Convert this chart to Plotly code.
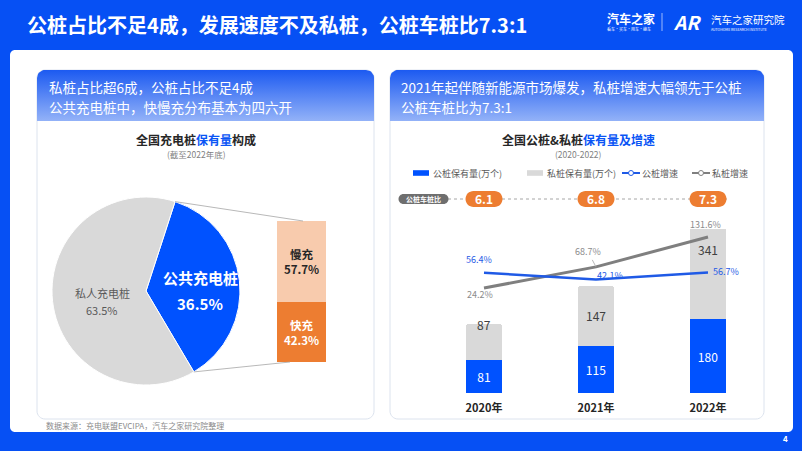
import numpy as np
import plotly.graph_objects as go

W, H = 802, 451
FONT = "Noto Sans CJK SC"

# ---------------- data ----------------
pie_labels = ["公共充电桩", "私人充电桩"]
pie_values = [36.5, 63.5]
split_labels = ["快充", "慢充"]
split_values = [42.3, 57.7]
years = ["2020年", "2021年", "2022年"]
public_stock = [81, 115, 180]
private_stock = [87, 147, 341]
public_growth = [56.4, 42.1, 56.7]
private_growth = [24.2, 68.7, 131.6]
ratio = [6.1, 6.8, 7.3]

# ---------------- styles ----------------
BG_BLUE = "#0650F4"
BAR_BLUE = "#0052FF"
LINE_BLUE = "#1F5AE6"
LIGHT_GRAY = "#D9D9D9"
DARK_GRAY = "#7F7F7F"
ORANGE = "#ED7D31"
PEACH = "#F8CBAD"
TXT = "#404040"

def px2x(px):
    return px / W

def py2y(py):
    return 1 - py / H

K = 0.5523

def rr_path(x0, y0, x1, y1, r):
    k = K * r
    return (f"M{x0+r},{y0} L{x1-r},{y0} C{x1-r+k},{y0} {x1},{y0+r-k} {x1},{y0+r} "
            f"L{x1},{y1-r} C{x1},{y1-r+k} {x1-r+k},{y1} {x1-r},{y1} "
            f"L{x0+r},{y1} C{x0+r-k},{y1} {x0},{y1-r+k} {x0},{y1-r} "
            f"L{x0},{y0+r} C{x0},{y0+r-k} {x0+r-k},{y0} {x0+r},{y0} Z")

def rr_points(x0, y0, x1, y1, rt, rb, n=10):
    xs, ys = [], []
    def arc(cx, cy, r, t0, t1):
        for t in np.linspace(t0, t1, n):
            xs.append(cx + r * np.cos(t)); ys.append(cy + r * np.sin(t))
    arc(x0 + rt, y0 + rt, rt, np.pi, 1.5 * np.pi)
    arc(x1 - rt, y0 + rt, rt, 1.5 * np.pi, 2 * np.pi)
    arc(x1 - rb, y1 - rb, rb, 0, 0.5 * np.pi)
    arc(x0 + rb, y1 - rb, rb, 0.5 * np.pi, np.pi)
    xs.append(xs[0]); ys.append(ys[0])
    return xs, ys

def pill_path(w, h):
    r = h / 2; hw = w / 2; k = K * r; s = hw - r
    return (f"M{-s},{-r} L{s},{-r} C{s+k},{-r} {hw},{-k} {hw},0 C{hw},{k} {s+k},{r} {s},{r} "
            f"L{-s},{r} C{-s-k},{r} {-hw},{k} {-hw},0 C{-hw},{-k} {-s-k},{-r} {-s},{-r} Z")

fig = go.Figure()
shapes = []
ann = []

def txt(x, y, s, size, color, xanchor="center", xref="x", yref="y", **kw):
    d = dict(x=x, y=y, text=s, xref=xref, yref=yref, showarrow=False,
             xanchor=xanchor, yanchor="middle",
             font=dict(family=FONT, size=size, color=color))
    d.update(kw)
    ann.append(d)

# ---------------- decoration (pixel axis x/y) ----------------
shapes.append(dict(type="path", xref="x", yref="y", path=rr_path(10, 50, 793, 432, 5),
                   fillcolor="white", line=dict(width=0), layer="below"))
for (x0, x1) in [(37, 374), (390, 764)]:
    shapes.append(dict(type="path", xref="x", yref="y", path=rr_path(x0, 70, x1, 419, 8),
                       fillcolor="white", line=dict(color="#DCE3EE", width=1), layer="below"))
    hx, hy = rr_points(x0, 70, x1, 121, 8, 0.01)
    fig.add_trace(go.Scatter(x=hx, y=hy, xaxis="x", yaxis="y", mode="lines",
                             line=dict(width=0), fill="toself", hoverinfo="skip",
                             showlegend=False,
                             fillgradient=dict(type="vertical", start=70, stop=121,
                                               colorscale=[[0, "#1C5AF1"], [1, "#93B2F8"]])))

# title & logo
txt(25, 24, "<b>公桩占比不足4成，发展速度不及私桩，公桩车桩比7.3:1</b>", 20, "white", xanchor="left")
txt(605, 18, "<b>汽车之家</b>", 12, "white", xanchor="left")
txt(605, 29, "看车·买车·用车·换车", 4, "white", xanchor="left")
shapes.append(dict(type="line", xref="x", yref="y", x0=662, x1=662, y0=13, y1=31,
                   line=dict(color="rgba(255,255,255,0.6)", width=1)))
txt(671, 21, "<b><i>AR</i></b>", 19, "white", xanchor="left")
txt(709, 19, "汽车之家研究院", 10.5, "white", xanchor="left")
txt(709, 29, "AUTOHOME RESEARCH INSTITUTE", 3.5, "white", xanchor="left")
txt(785, 438, "<b>4</b>", 8, "white")

# card headers
txt(47, 87, "私桩占比超6成，公桩占比不足4成", 13.5, "white", xanchor="left")
txt(47, 107, "公共充电桩中，快慢充分布基本为四六开", 13.5, "white", xanchor="left")
txt(399, 87, "2021年起伴随新能源市场爆发，私桩增速大幅领先于公桩", 13.5, "white", xanchor="left")
txt(399, 107, "公桩车桩比为7.3:1", 13.5, "white", xanchor="left")

# chart titles
txt(196, 139, "<b>全国充电桩<span style='color:#0A55F5'>保有量</span>构成</b>", 12, "#262626")
txt(196, 154, "(截至2022年底)", 8.5, "#7F7F7F")
txt(578, 139, "<b>全国公桩&私桩<span style='color:#0A55F5'>保有量及增速</span></b>", 12, "#262626")
txt(578, 154, "(2020-2022)", 8.5, "#7F7F7F")
txt(44, 425, "数据来源：充电联盟EVCIPA，汽车之家研究院整理", 8, "#8C8C8C", xanchor="left")

# ---------------- pie ----------------
PCX, PCY, PR = 146, 291, 94
ROT = 18
fig.add_trace(go.Pie(labels=pie_labels, values=pie_values, sort=False, direction="clockwise",
                     rotation=ROT, textinfo="none", hoverinfo="skip", showlegend=False,
                     marker=dict(colors=[BAR_BLUE, LIGHT_GRAY], line=dict(color="white", width=1)),
                     domain=dict(x=[px2x(PCX - PR), px2x(PCX + PR)],
                                 y=[py2y(PCY + PR), py2y(PCY - PR)])))
txt(200, 277, f"<b>{pie_labels[0]}</b>", 15, "white")
txt(200, 303, f"<b>{pie_values[0]}%</b>", 15, "white")
txt(102, 293, pie_labels[1], 11, "#595959")
txt(102, 310, f"{pie_values[1]}%", 11, "#595959")

# connector lines from public slice to breakdown bar
a0 = np.radians(ROT)
a1 = np.radians(ROT + 360 * pie_values[0] / sum(pie_values))
BX0, BX1, BY0, BY1 = 277, 326, 221, 362
shapes.append(dict(type="line", xref="x", yref="y",
                   x0=PCX + PR * np.sin(a0), y0=PCY - PR * np.cos(a0), x1=303, y1=BY0,
                   line=dict(color="#A6A6A6", width=0.8), layer="above"))
shapes.append(dict(type="line", xref="x", yref="y",
                   x0=PCX + PR * np.sin(a1), y0=PCY - PR * np.cos(a1), x1=290, y1=BY1,
                   line=dict(color="#A6A6A6", width=0.8), layer="above"))

# breakdown stacked bar
split_colors = [ORANGE, PEACH]
split_text_colors = ["white", "#262626"]
for lab, v, c, tc in zip(split_labels, split_values, split_colors, split_text_colors):
    fig.add_trace(go.Bar(x=[0], y=[v], xaxis="x3", yaxis="y4", width=1, marker=dict(color=c, line=dict(width=0)),
                         text=[f"<b>{lab}<br>{v}%</b>"], textposition="inside", insidetextanchor="middle",
                         textfont=dict(family=FONT, size=11.5, color=tc), hoverinfo="skip", showlegend=False))

# ---------------- right: bars + lines ----------------
xs = list(range(len(years)))
fig.add_trace(go.Bar(x=xs, y=public_stock, xaxis="x2", yaxis="y2", width=0.32,
                     marker=dict(color=BAR_BLUE, line=dict(width=0)),
                     text=[str(v) for v in public_stock], textposition="inside", insidetextanchor="middle",
                     textfont=dict(family=FONT, size=12, color="white"),
                     hoverinfo="skip", showlegend=False))
fig.add_trace(go.Bar(x=xs, y=private_stock, xaxis="x2", yaxis="y2", width=0.32,
                     marker=dict(color=LIGHT_GRAY, line=dict(width=0), cornerradius=3),
                     hoverinfo="skip", showlegend=False))
fig.add_trace(go.Scatter(x=xs, y=private_growth, xaxis="x2", yaxis="y3", mode="lines",
                         line=dict(color=DARK_GRAY, width=3), hoverinfo="skip", showlegend=False))
fig.add_trace(go.Scatter(x=xs, y=public_growth, xaxis="x2", yaxis="y3", mode="lines",
                         line=dict(color=LINE_BLUE, width=2.5), hoverinfo="skip", showlegend=False))

# private bar labels
priv_label_frac = [1.0, 0.5, 0.5]
for i, (p, q, f) in enumerate(zip(public_stock, private_stock, priv_label_frac)):
    txt(i, p + q * f, str(q), 12, TXT, xref="x2", yref="y2")

# growth labels
pub_shift = [(-5, 13), (14, 4), (18, 1)]
for i, (v, (dx, dy)) in enumerate(zip(public_growth, pub_shift)):
    txt(i, v, f"{v}%", 9, LINE_BLUE, xref="x2", yref="y3", xshift=dx, yshift=dy)
priv_shift = [(-4, -6), None, (-3, 12)]
for i, (v, s) in enumerate(zip(private_growth, priv_shift)):
    if s is None:
        ann.append(dict(x=i, y=v, xref="x2", yref="y3", text=f"{v}%", showarrow=True,
                        arrowhead=0, arrowwidth=0.8, arrowcolor="#A6A6A6", ax=-8, ay=-15,
                        font=dict(family=FONT, size=9, color="#8C8C8C")))
    else:
        txt(i, v, f"{v}%", 9, "#8C8C8C", xref="x2", yref="y3", xshift=s[0], yshift=s[1])

# ratio row
RY = 199
shapes.append(dict(type="line", xref="x", yref="y", x0=448, x1=728, y0=RY, y1=RY,
                   line=dict(color="#A6A6A6", width=1, dash="dot"), layer="above"))
shapes.append(dict(type="path", xref="x", yref="y", xsizemode="pixel", ysizemode="pixel",
                   xanchor=423.5, yanchor=RY, path=pill_path(50, 10), fillcolor="#6E6E6E",
                   line=dict(width=0), layer="above"))
txt(423.5, RY, "<b>公桩车桩比</b>", 7, "white")
for i, r in enumerate(ratio):
    shapes.append(dict(type="path", xref="x2", yref="paper", xsizemode="pixel", ysizemode="pixel",
                       xanchor=i, yanchor=py2y(RY), path=pill_path(37, 16), fillcolor=ORANGE,
                       line=dict(width=0), layer="above"))
    txt(i, py2y(RY), f"<b>{r}</b>", 12, "white", xref="x2", yref="paper")

# custom legend
LY = 173
legend_items = [
    ("rect", BAR_BLUE, 413, "公桩保有量(万个)"),
    ("rect", LIGHT_GRAY, 527, "私桩保有量(万个)"),
    ("line", LINE_BLUE, 622, "公桩增速"),
    ("line", DARK_GRAY, 692, "私桩增速"),
]
for kind, col, lx, label in legend_items:
    if kind == "rect":
        shapes.append(dict(type="rect", xref="x", yref="y", x0=lx, x1=lx + 16, y0=LY - 2.8, y1=LY + 2.8,
                           fillcolor=col, line=dict(width=0), layer="above"))
    else:
        shapes.append(dict(type="line", xref="x", yref="y", x0=lx, x1=lx + 18, y0=LY, y1=LY,
                           line=dict(color=col, width=2), layer="above"))
        shapes.append(dict(type="circle", xref="x", yref="y", x0=lx + 6.5, x1=lx + 11.5,
                           y0=LY - 2.5, y1=LY + 2.5, fillcolor="white",
                           line=dict(color=col, width=1), layer="above"))
    txt(lx + 18, LY, label, 9, "#595959", xanchor="left")

# ---------------- layout ----------------
PLOT_X0, PLOT_X1, PLOT_Y0, PLOT_Y1 = 428, 764, 229, 393
fig.update_layout(
    width=W, height=H, autosize=False,
    margin=dict(l=0, r=0, t=0, b=0, pad=0),
    paper_bgcolor=BG_BLUE, plot_bgcolor="rgba(0,0,0,0)",
    barmode="stack", showlegend=False,
    font=dict(family=FONT),
    xaxis=dict(domain=[0, 1], range=[0, W], visible=False, fixedrange=True),
    yaxis=dict(domain=[0, 1], range=[H, 0], visible=False, fixedrange=True),
    xaxis2=dict(domain=[px2x(PLOT_X0), px2x(PLOT_X1)], range=[-0.5, 2.5], anchor="y2",
                tickvals=xs, ticktext=[f"<b>{y}</b>" for y in years],
                tickfont=dict(family=FONT, size=11, color="#262626"),
                showgrid=False, zeroline=False, showline=False,
                ticks="outside", ticklen=5, tickcolor="rgba(0,0,0,0)"),
    yaxis2=dict(domain=[py2y(PLOT_Y1), py2y(PLOT_Y0)], range=[0, 400], anchor="x2", visible=False),
    yaxis3=dict(overlaying="y2", range=[-196.8, 148.4], anchor="x2", visible=False),
    xaxis3=dict(domain=[px2x(BX0), px2x(BX1)], range=[-0.5, 0.5], anchor="y4", visible=False),
    yaxis4=dict(domain=[py2y(BY1), py2y(BY0)], range=[0, 100], anchor="x3", visible=False),
    shapes=shapes, annotations=ann,
)

fig.write_html("out.html", config={"displayModeBar": False},
               post_script="document.body.style.margin='0px';document.body.style.overflow='hidden';")
